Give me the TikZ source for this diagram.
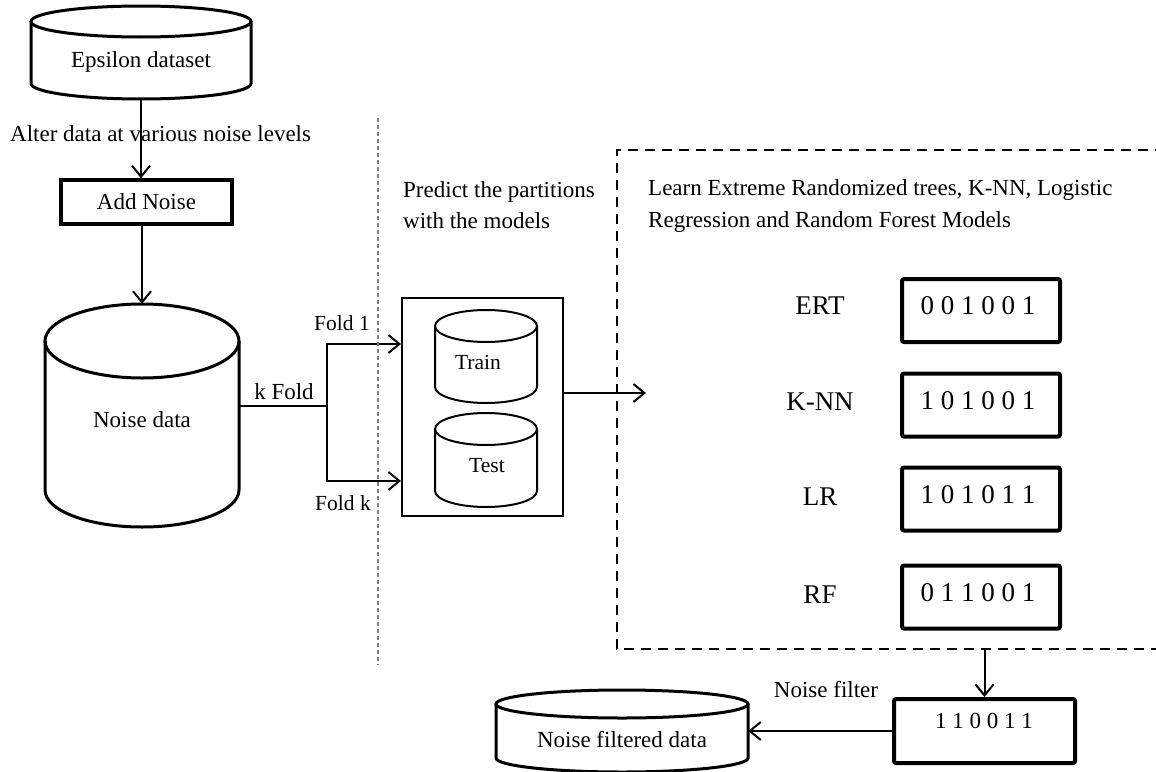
\documentclass[tikz,border=0pt]{standalone}
\usepackage{fontspec}
\setmainfont{Liberation Serif}
\usetikzlibrary{arrows.meta}
\newcommand{\dbcyl}[7]{% #1 name, #2 cx, #3 rx, #4 top, #5 bottom, #6 ry, #7 style
  \pgfmathsetmacro{\cyT}{#4+#6}%
  \pgfmathsetmacro{\cyB}{#5-#6}%
  \pgfmathsetmacro{\cyL}{#2-#3}%
  \pgfmathsetmacro{\cyR}{#2+#3}%
  \pgfmathsetmacro{\cyKx}{0.5523*#3}%
  \pgfmathsetmacro{\cyKy}{0.5523*#6}%
  \draw[#7] (\cyL,\cyT) -- (\cyL,\cyB)
     .. controls (\cyL,{\cyB+\cyKy}) and ({#2-\cyKx},#5) .. (#2,#5)
     .. controls ({#2+\cyKx},#5) and (\cyR,{\cyB+\cyKy}) .. (\cyR,\cyB)
     -- (\cyR,\cyT);
  \draw[#7] (#2,\cyT) ellipse [x radius=#3, y radius=#6];
  \node[inner sep=0pt, minimum width={2*#3}, minimum height={#5-#4}] (#1) at (#2,{(#4+#5)/2}) {};
}
\begin{document}
\begin{tikzpicture}[x=1pt,y=-1pt,
  txt/.style={inner sep=0pt, font=\fontsize{23}{28}\selectfont},
  bigtxt/.style={inner sep=0pt, font=\fontsize{27}{32}\selectfont},
  smalltxt/.style={inner sep=0pt, font=\fontsize{21.5}{26}\selectfont},
  thickcyl/.style={line width=3pt},
  thincyl/.style={line width=2pt},
  arr/.style={line width=2pt, -{Straight Barb[length=11pt,width=18pt]}},
  conn/.style={line width=2pt},
  boxA/.style={draw, line width=3.5pt, inner sep=0pt},
  mbox/.style={draw, line width=4pt, rounded corners=2pt, inner sep=0pt, minimum width=158, minimum height=63},
  frame/.style={line width=2.5pt, dash pattern=on 10pt off 7pt},
  divider/.style={line width=1.5pt, gray, dash pattern=on 4pt off 3pt}
]
\useasboundingbox (0,0) rectangle (1156,771);

% Epsilon dataset
\dbcyl{eps}{141}{110}{6}{99}{15.5}{thickcyl}
\node[txt] (epst) at (141,62) {Epsilon dataset};

\node[txt, anchor=west] (alter) at (10,134) {Alter data at various noise levels};

\node[boxA, minimum width=171, minimum height=44, txt] (addn) at (146.5,202) {Add Noise};
\draw[arr] (eps.south) -- (eps.south |- addn.north);

% Noise data
\dbcyl{nd}{142}{97}{304}{527}{37}{thickcyl}
\node[txt] (ndt) at (142,420) {Noise data};
\draw[arr] (nd.north |- addn.south) -- (nd.north);

% k fold split
\coordinate (split) at (327,406);
\coordinate (f1) at (327,344);
\coordinate (fk) at (327,481);
\node[draw, line width=2pt, minimum width=161, minimum height=218, inner sep=0pt] (tt) at (482.5,407) {};
\draw[conn] (nd.east |- split) -- (split);
\draw[arr] (split) -- (f1) -- (tt.west |- f1);
\draw[arr] (split) -- (fk) -- (tt.west |- fk);
\node[txt] (kfold) at (284,392) {k Fold};
\node[smalltxt] (fold1) at (342,323) {Fold 1};
\node[smalltxt] (foldk) at (343,503) {Fold k};

% divider
\coordinate (dvtop) at (378,118);
\coordinate (dvbot) at (378,665);
\draw[divider] (dvtop) -- (dvbot);

% Train / Test
\dbcyl{train}{486}{51}{310}{403}{16}{thincyl}
\node[smalltxt] (traint) at (478,362) {Train};
\dbcyl{test}{486}{51}{413}{507}{16}{thincyl}
\node[smalltxt] (testt) at (487,466) {Test};

\node[txt, anchor=west, align=left, font=\fontsize{23}{31}\selectfont] (predict) at (403,205) {Predict the partitions\\with the models};

% arrow to models
\coordinate (mdl) at (646,393);
\draw[arr] (tt.east |- mdl) -- (mdl);

% dashed frame
\coordinate (frtr) at (1165,150);
\coordinate (frtl) at (617,150);
\coordinate (frbl) at (617,649);
\coordinate (frbr) at (1165,649);
\draw[frame] (frtr) -- (frtl) -- (frbl) -- (frbr);

\node[txt, anchor=west, align=left, font=\fontsize{23}{32}\selectfont] (learn) at (648,206) {Learn Extreme Randomized trees, K-NN, Logistic\\Regression and Random Forest Models};

% models
\node[mbox] (ert) at (981,310.5) {};
\node[bigtxt] (ertt) at (978,306) {0 0 1 0 0 1};
\node[bigtxt] (lert) at (820,306) {ERT};
\node[mbox] (knn) at (981,405) {};
\node[bigtxt] (knnt) at (978,401) {1 0 1 0 0 1};
\node[bigtxt] (lknn) at (820,402) {K-NN};
\node[mbox] (lr) at (981,499) {};
\node[bigtxt] (lrt) at (978,495) {1 0 1 0 1 1};
\node[bigtxt] (llr) at (820,497) {LR};
\node[mbox] (rf) at (981,597) {};
\node[bigtxt] (rft) at (978,593) {0 1 1 0 0 1};
\node[bigtxt] (lrf) at (820,595) {RF};

% noise filter
\node[boxA, line width=4pt, rounded corners=2pt, minimum width=181, minimum height=64] (nf) at (984.5,731) {};
\node[txt] (nft) at (984,721) {1 1 0 0 1 1};
\coordinate (frout) at (984.5,649);
\draw[arr] (frout) -- (nf.north);
\node[txt] (nflabel) at (826,690) {Noise filter};

% noise filtered data
\dbcyl{nfd}{622}{126}{690}{772}{14}{thickcyl}
\node[txt] (nfdt) at (622,740) {Noise filtered data};
\draw[arr] (nf.west) -- (nfd.east |- nf.west);
\end{tikzpicture}
\end{document}
